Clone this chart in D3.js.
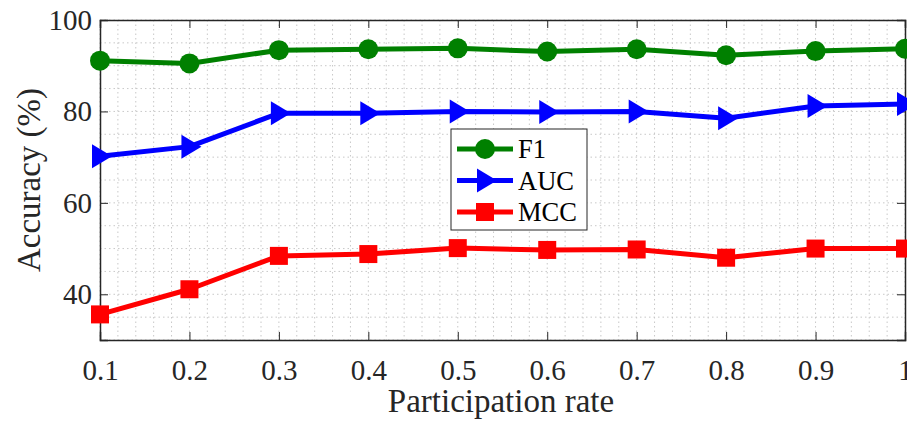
<!DOCTYPE html>
<html>
<head>
<meta charset="utf-8">
<script src="https://cdn.jsdelivr.net/npm/d3@7"></script>
<style>
  body { margin: 0; background: #fff; }
  svg, svg text { font-family: "Times New Roman", "Liberation Serif", Times, "DejaVu Serif", serif !important; }
</style>
</head>
<body>
<svg id="chart" width="907" height="425"></svg>
<script>
// Data
const rates = [0.1, 0.2, 0.3, 0.4, 0.5, 0.6, 0.7, 0.8, 0.9, 1.0];
const f1  = [91.1, 90.5, 93.4, 93.6, 93.8, 93.1, 93.6, 92.3, 93.2, 93.7];
const auc = [70.2, 72.3, 79.6, 79.6, 80.0, 79.9, 80.0, 78.5, 81.2, 81.6];
const mcc = [35.6, 41.1, 48.4, 48.8, 50.1, 49.7, 49.8, 48.0, 50.0, 50.0];
const xTicks = [0.1, 0.2, 0.3, 0.4, 0.5, 0.6, 0.7, 0.8, 0.9, 1];
const yTicks = [40, 60, 80, 100];

const series = [
  { name: 'F1',  values: f1,  color: '#008000', marker: 'circle' },
  { name: 'AUC', values: auc, color: '#0000ff', marker: 'triangle' },
  { name: 'MCC', values: mcc, color: '#ff0000', marker: 'square' }
];

const margin = { top: 20, right: 2, bottom: 85, left: 100 };
const width = 907 - margin.left - margin.right;
const height = 425 - margin.top - margin.bottom;

const svg = d3.select('#chart');
const g = svg.append('g').attr('transform', `translate(${margin.left},${margin.top})`);

const x = d3.scaleLinear().domain([0.1, 1]).range([0, width]);
const y = d3.scaleLinear().domain([30, 100]).range([height, 0]);

// grid (minor + major, dotted)
const xMinor = d3.range(0.1, 1.0001, 0.02);
const yMinor = d3.range(30, 100.001, 5);
g.append('g').selectAll('line').data(xMinor).enter().append('line')
  .attr('x1', d => x(d)).attr('x2', d => x(d))
  .attr('y1', 0).attr('y2', height)
  .attr('stroke', '#c8c8c8').attr('stroke-width', 1).attr('stroke-dasharray', '1.5,3');
g.append('g').selectAll('line').data(yMinor).enter().append('line')
  .attr('x1', 0).attr('x2', width)
  .attr('y1', d => y(d)).attr('y2', d => y(d))
  .attr('stroke', '#c8c8c8').attr('stroke-width', 1).attr('stroke-dasharray', '1.5,3');

// axes (ticks inward, box on)
const axisColor = '#262626';
const xAxis = g.append('g').attr('transform', `translate(0,${height})`)
  .call(d3.axisBottom(x).tickValues(xTicks).tickSize(-8).tickPadding(19)
    .tickFormat(d => d === 1 ? '1' : d3.format('.1f')(d)));
const xAxisTop = g.append('g')
  .call(d3.axisTop(x).tickValues(xTicks).tickSize(-8).tickFormat(''));
const yAxis = g.append('g')
  .call(d3.axisLeft(y).tickValues(yTicks).tickSize(-8).tickPadding(8));
const yAxisRight = g.append('g').attr('transform', `translate(${width},0)`)
  .call(d3.axisRight(y).tickValues(yTicks).tickSize(-8).tickFormat(''));

[xAxis, xAxisTop, yAxis, yAxisRight].forEach(a => {
  a.attr('font-family', null);
  a.select('.domain').attr('stroke', axisColor).attr('stroke-width', 1.5);
  a.selectAll('.tick line').attr('stroke', axisColor).attr('stroke-width', 1);
  a.selectAll('.tick text').attr('fill', axisColor).style('font-size', '29px');
});

// lines and markers
const line = d3.line().x((d, i) => x(rates[i])).y(d => y(d));

function drawMarker(sel, type, color) {
  if (type === 'circle') {
    sel.append('circle').attr('r', 10).attr('fill', color);
  } else if (type === 'triangle') {
    sel.append('path').attr('d', 'M-8,-12 L12,0 L-8,12 Z').attr('fill', color);
  } else {
    sel.append('rect').attr('x', -9).attr('y', -9).attr('width', 18).attr('height', 18).attr('fill', color);
  }
}

series.forEach(s => {
  g.append('path').datum(s.values)
    .attr('fill', 'none').attr('stroke', s.color).attr('stroke-width', 5)
    .attr('stroke-linejoin', 'round')
    .attr('d', line);
  g.append('g').selectAll('g').data(s.values).enter().append('g')
    .attr('transform', (d, i) => `translate(${x(rates[i])},${y(d)})`)
    .each(function () { drawMarker(d3.select(this), s.marker, s.color); });
});

// legend
const legend = svg.append('g').attr('transform', 'translate(451,129)');
legend.append('rect').attr('width', 136).attr('height', 101)
  .attr('fill', '#fff').attr('stroke', axisColor).attr('stroke-width', 1);
series.forEach((s, i) => {
  const row = legend.append('g').attr('transform', `translate(0,${20 + i * 31.5})`);
  row.append('line').attr('x1', 6).attr('x2', 62).attr('y1', 0).attr('y2', 0)
    .attr('stroke', s.color).attr('stroke-width', 5);
  const m = row.append('g').attr('transform', 'translate(34,0)');
  drawMarker(m, s.marker, s.color);
  row.append('text').attr('x', 67).attr('y', 9).text(s.name)
    .style('font-size', '26.5px').attr('fill', '#000');
});

// axis titles
svg.append('text')
  .attr('x', 501).attr('y', 412)
  .attr('text-anchor', 'middle').attr('fill', axisColor)
  .style('font-size', '33px').text('Participation rate');
svg.append('text')
  .attr('transform', `translate(40,${margin.top + height / 2}) rotate(-90)`)
  .attr('text-anchor', 'middle').attr('fill', axisColor)
  .style('font-size', '33px').text('Accuracy (%)');
</script>
</body>
</html>
